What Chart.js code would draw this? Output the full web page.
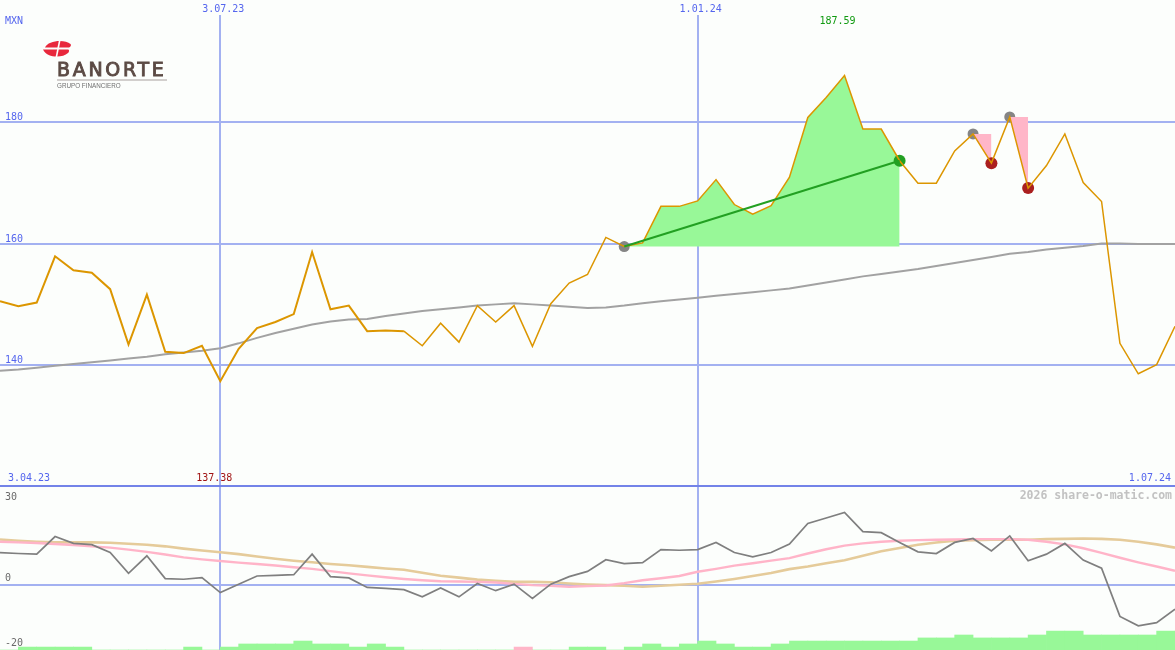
<!DOCTYPE html>
<html><head><meta charset="utf-8">
<script src="https://cdn.jsdelivr.net/npm/chart.js@4.4.0/dist/chart.umd.min.js"></script>
<style>
html,body{margin:0;padding:0;background:#fcfefc;}
#wrap{position:relative;width:1175px;height:650px;overflow:hidden;background:#fcfefc;}
canvas{position:absolute;left:0;}
#logo{position:absolute;left:43px;top:39px;width:130px;height:55px;}
</style></head><body>
<div id="wrap">
<canvas id="top" width="1175" height="487" style="top:0"></canvas>
<canvas id="bot" width="1175" height="165" style="top:485px"></canvas>
<div id="logo">
  <svg width="30" height="20" style="position:absolute;left:0;top:0">
    <path d="M2 8.5 C 5 1, 22 0, 27.5 5 C 28.5 6.5, 27.5 8.5, 25 8.5 Z" fill="#e8283c"/>
    <path d="M0 10.5 L 24.5 10.5 C 26.5 10.5, 26.5 12.5, 25 14 C 19 19.5, 4 19, 0 10.5 Z" fill="#e8283c"/>
    <line x1="17" y1="0" x2="13" y2="20" stroke="#fcfefc" stroke-width="1.6"/>
  </svg>
  <div style="position:absolute;left:14px;top:21px;font:19px 'DejaVu Sans';line-height:19px;color:#5b4a44;letter-spacing:2.7px;white-space:nowrap;-webkit-text-stroke:0.9px #5b4a44">BANORTE</div>
  <div style="position:absolute;left:14px;top:40px;width:110px;height:2px;background:#d2cfcd"></div>
  <div style="position:absolute;left:14px;top:43px;font:6.3px 'Liberation Sans';line-height:7px;color:#707070;white-space:nowrap">GRUPO FINANCIERO</div>
</div>
</div>
<script>
// ---------- data ----------
const currency = 'MXN';
const dateLabels = ['3.04.23', '3.07.23', '1.01.24', '1.07.24'];
const dateIdx = [0, 12, 38, 64];
const priceTicks = [140, 160, 180];
const oscTicks = [30, 0, -20];
const copyright = '2026 share-o-matic.com';

const price = [150.5,149.7,150.3,157.9,155.6,155.2,152.5,143.4,151.6,142.2,
  142.0,143.2,137.38,142.7,146.1,147.1,148.4,158.6,149.2,149.8,
  145.6,145.7,145.6,143.2,146.9,143.8,149.8,147.1,149.8,143.1,
  150.1,153.5,154.9,161.0,159.5,160.1,166.1,166.1,167.0,170.5,
  166.4,164.8,166.2,170.9,180.7,184.0,187.59,178.8,178.8,173.6,
  169.9,169.9,175.2,178.0,173.2,180.8,169.1,172.8,178.0,170.0,
  166.9,143.6,138.6,140.1,146.4];

const movingAvg = [139.1,139.3,139.6,139.9,140.2,140.5,140.8,141.1,141.4,141.8,
  142.1,142.4,142.8,143.6,144.5,145.3,146.0,146.7,147.2,147.5,
  147.6,148.1,148.5,148.9,149.2,149.5,149.8,150.0,150.2,150.0,
  149.8,149.6,149.4,149.5,149.8,150.2,150.5,150.8,151.1,151.4,
  151.7,152.0,152.3,152.6,153.1,153.6,154.1,154.6,155.0,155.4,
  155.8,156.3,156.8,157.3,157.8,158.3,158.6,159.0,159.3,159.6,
  160.0,160.0,159.9,159.9,159.9];

const momentum = [9.9,9.6,9.4,14.8,12.7,12.3,9.9,3.5,8.9,1.9,
  1.7,2.2,-2.4,0.2,2.7,2.9,3.1,9.4,2.5,2.1,
  -0.8,-1.1,-1.5,-3.7,-1.0,-3.7,0.4,-1.8,0.2,-4.2,
  0.2,2.5,4.1,7.7,6.5,6.8,10.8,10.6,10.8,13.0,
  9.9,8.6,9.9,12.5,18.8,20.5,22.2,16.3,16.0,13.0,
  10.1,9.6,13.0,14.2,10.4,15.0,7.4,9.4,12.7,7.6,
  5.1,-9.7,-12.6,-11.6,-7.5];

const signalFast = [13.2,13.0,12.8,12.5,12.2,11.8,11.4,10.8,10.1,9.3,
  8.4,7.8,7.3,6.8,6.4,5.9,5.4,4.9,4.2,3.5,
  2.9,2.3,1.8,1.4,1.1,1.0,0.9,0.7,0.3,-0.1,
  -0.3,-0.6,-0.4,-0.2,0.5,1.4,2.0,2.7,4.0,4.9,
  5.9,6.6,7.4,8.2,9.6,10.9,12.0,12.7,13.2,13.5,
  13.7,13.8,13.9,14.0,14.0,14.0,13.8,13.2,12.4,11.2,
  9.8,8.3,6.9,5.6,4.3];

const signalSlow = [13.9,13.5,13.2,13.0,13.0,13.0,12.9,12.6,12.3,11.8,
  11.1,10.5,10.0,9.4,8.7,8.0,7.4,6.9,6.4,6.0,
  5.5,5.0,4.6,3.7,2.8,2.2,1.6,1.2,0.9,0.9,
  0.8,0.4,0.1,-0.1,-0.3,-0.6,-0.3,0.0,0.3,1.0,
  1.8,2.7,3.6,4.8,5.6,6.6,7.5,8.9,10.3,11.3,
  12.3,13.0,13.5,13.7,13.8,13.8,13.8,14.0,14.1,14.2,
  14.1,13.8,13.2,12.4,11.4];

// signed: negative = pink bar
const volume = [0,0.9,0.9,0.9,0.9,0,0,0,0,0,
  0.9,0,0.9,1.85,1.85,1.85,2.75,1.85,1.85,0.9,
  1.85,0.9,0,0,0,0,0,0,-0.9,0,
  0,0.9,0.9,0,0.9,1.85,0.9,1.85,2.75,1.85,
  0.9,0.9,1.85,2.75,2.75,2.75,2.75,2.75,2.75,2.75,
  3.7,3.7,4.6,3.7,3.7,3.7,4.6,5.8,5.8,4.6,
  4.6,4.6,4.6,5.8,5.8];

const trendFrom = 34, trendTo = 49;
const sellFrom = [53, 55], sellTo = [54, 56];

// ---------- styles ----------
const GRID = '#a3b1f1', SEP = '#7383e8', BLUE = '#5566ee';
const ORANGE = '#dc9600', MAGRAY = '#a2a2a2', FILLGREEN = '#98f898', TRENDGREEN = '#22a022';
const PINKFILL = '#ffb6c8', DOTGRAY = '#858585', DOTRED = '#aa1f1f';
const MONO = '"DejaVu Sans Mono", monospace';

const pts = arr => arr.map((v, i) => ({x: i, y: v}));

// ---------- top chart ----------
const topDatasets = [];
topDatasets.push({
  label: 'area', data: price.slice(trendFrom, trendTo + 1).map((v, k) => ({x: trendFrom + k, y: v})),
  borderWidth: 0, borderColor: 'rgba(0,0,0,0)', backgroundColor: FILLGREEN,
  fill: {value: price[trendFrom]}, pointRadius: 0, order: 20
});
sellFrom.forEach((a, k) => {
  const b = sellTo[k];
  topDatasets.push({
    label: 'sellTop' + k, data: [{x: a, y: price[a]}, {x: b, y: price[a]}],
    borderWidth: 0, borderColor: 'rgba(0,0,0,0)', backgroundColor: PINKFILL,
    fill: '+1', pointRadius: 0, order: 17
  });
  topDatasets.push({
    label: 'sellEdge' + k, data: [{x: a, y: price[a]}, {x: b, y: price[b]}],
    borderWidth: 0, borderColor: 'rgba(0,0,0,0)', fill: false, pointRadius: 0, order: 17
  });
});
topDatasets.push({
  label: 'ma', data: pts(movingAvg), borderColor: MAGRAY, borderWidth: 2,
  pointRadius: 0, fill: false, order: 10
});
topDatasets.push({
  label: 'price', data: pts(price), borderColor: ORANGE, borderWidth: 2,
  pointRadius: 0, fill: false, order: 5,
  segment: { borderWidth: c => (c.p0DataIndex < 22 ? 2 : 1.5) }
});
topDatasets.push({
  label: 'trend', data: [{x: trendFrom, y: price[trendFrom]}, {x: trendTo, y: price[trendTo]}],
  borderColor: TRENDGREEN, borderWidth: 2, pointRadius: 0, fill: false, order: 4
});
const startPts = [{x: trendFrom, y: price[trendFrom]}].concat(sellFrom.map(a => ({x: a, y: price[a]})));
const endPts = [{x: trendTo, y: price[trendTo]}].concat(sellTo.map(b => ({x: b, y: price[b]})));
const endCols = [TRENDGREEN].concat(sellTo.map(() => DOTRED));
topDatasets.push({
  label: 'startDots', data: startPts, showLine: false, pointRadius: 5.5, pointBorderWidth: 0,
  pointBackgroundColor: DOTGRAY, pointBorderColor: DOTGRAY, order: 18
});
topDatasets.push({
  label: 'endDots', data: endPts, showLine: false, pointRadius: 6, pointBorderWidth: 0,
  pointBackgroundColor: endCols, pointBorderColor: endCols, order: 16
});

const topDeco = {
  id: 'topDeco',
  beforeDatasetsDraw(chart) {
    const {ctx, chartArea: a, scales: {x, y}} = chart;
    ctx.save();
    ctx.strokeStyle = GRID; ctx.lineWidth = 2;
    priceTicks.forEach(v => {
      const py = Math.round(y.getPixelForValue(v));
      ctx.beginPath(); ctx.moveTo(a.left, py); ctx.lineTo(a.right, py); ctx.stroke();
    });
    [dateIdx[1], dateIdx[2]].forEach(i => {
      const px = Math.round(x.getPixelForValue(i));
      ctx.beginPath(); ctx.moveTo(px, 15); ctx.lineTo(px, a.bottom); ctx.stroke();
    });
    ctx.restore();
  },
  afterDatasetsDraw(chart) {
    const {ctx, chartArea: a, scales: {x, y}} = chart;
    ctx.save();
    ctx.font = '10px ' + MONO;
    ctx.fillStyle = BLUE;
    ctx.textAlign = 'left'; ctx.textBaseline = 'alphabetic';
    priceTicks.forEach(v => ctx.fillText(String(v), 5, y.getPixelForValue(v) - 2));
    ctx.textBaseline = 'middle';
    ctx.fillText(currency, 5, 21);
    ctx.textAlign = 'center';
    [1, 2].forEach(k => ctx.fillText(dateLabels[k], x.getPixelForValue(dateIdx[k]) + 3, 9));
    ctx.textAlign = 'left';
    ctx.fillText(dateLabels[0], 8, a.bottom - 8.5);
    ctx.textAlign = 'right';
    ctx.fillText(dateLabels[3], a.right - 4, a.bottom - 8.5);
    const maxV = Math.max(...price), minV = Math.min(...price);
    const iMax = price.indexOf(maxV), iMin = price.indexOf(minV);
    ctx.textAlign = 'center';
    ctx.fillStyle = '#109a10';
    ctx.fillText(maxV.toFixed(2), x.getPixelForValue(iMax) - 7, 21);
    ctx.fillStyle = '#a01414';
    ctx.fillText(minV.toFixed(2), x.getPixelForValue(iMin) - 6, a.bottom - 8.5);
    ctx.restore();
  }
};

new Chart(document.getElementById('top'), {
  type: 'line',
  data: {datasets: topDatasets},
  options: {
    responsive: false, animation: false, events: [],
    layout: {padding: 0, autoPadding: false},
    plugins: {legend: {display: false}, tooltip: {enabled: false}},
    elements: {line: {tension: 0}},
    scales: {
      x: {type: 'linear', min: 0, max: 64, display: false, offset: false},
      y: {type: 'linear', min: 120, max: 200, display: false}
    }
  },
  plugins: [topDeco]
});

// ---------- bottom chart ----------
const botDeco = {
  id: 'botDeco',
  beforeDatasetsDraw(chart) {
    const {ctx, chartArea: a, scales: {x, y}} = chart;
    ctx.save();
    ctx.strokeStyle = GRID; ctx.lineWidth = 2;
    const p0 = Math.round(y.getPixelForValue(0));
    ctx.beginPath(); ctx.moveTo(a.left, p0); ctx.lineTo(a.right, p0); ctx.stroke();
    [dateIdx[1], dateIdx[2]].forEach(i => {
      const px = Math.round(x.getPixelForValue(i));
      ctx.beginPath(); ctx.moveTo(px, a.top); ctx.lineTo(px, a.bottom); ctx.stroke();
    });
    ctx.strokeStyle = SEP;
    ctx.beginPath(); ctx.moveTo(a.left, a.top - 1); ctx.lineTo(a.right, a.top - 1); ctx.stroke();
    ctx.restore();
  },
  afterDatasetsDraw(chart) {
    const {ctx, chartArea: a, scales: {y}} = chart;
    ctx.save();
    ctx.font = '10px ' + MONO;
    ctx.fillStyle = '#6a6a6a';
    ctx.textAlign = 'left'; ctx.textBaseline = 'alphabetic';
    oscTicks.forEach(v => {
      const py = y.getPixelForValue(v);
      ctx.fillText(String(v), 5, v === oscTicks[0] ? py + 13 : py - 4);
    });
    ctx.font = 'bold 11.5px ' + MONO;
    ctx.fillStyle = '#c2c2c2';
    ctx.textAlign = 'right'; ctx.textBaseline = 'middle';
    ctx.fillText(copyright, a.right - 3, a.top + 9);
    ctx.restore();
  }
};

new Chart(document.getElementById('bot'), {
  type: 'line',
  data: {datasets: [
    {
      type: 'bar', label: 'volume',
      data: volume.map((v, i) => ({x: i + 0.5, y: [-20, -20 + Math.abs(v)]})),
      backgroundColor: volume.map(v => (v < 0 ? PINKFILL : FILLGREEN)),
      borderWidth: 0, barPercentage: 1, categoryPercentage: 1, grouped: false, order: 20
    },
    {label: 'slow', data: pts(signalSlow), borderColor: '#e5cb9a', borderWidth: 2.6, pointRadius: 0, fill: false, order: 9},
    {label: 'fast', data: pts(signalFast), borderColor: '#ffb4c8', borderWidth: 2.4, pointRadius: 0, fill: false, order: 8},
    {label: 'momentum', data: pts(momentum), borderColor: '#7f7f7f', borderWidth: 1.7, pointRadius: 0, fill: false, order: 1}
  ]},
  options: {
    responsive: false, animation: false, events: [],
    layout: {padding: {top: 2, left: 0, right: 0, bottom: 0}, autoPadding: false},
    plugins: {legend: {display: false}, tooltip: {enabled: false}},
    elements: {line: {tension: 0}},
    scales: {
      x: {type: 'linear', min: 0, max: 64, display: false, offset: false},
      y: {type: 'linear', min: -20, max: 30, display: false}
    }
  },
  plugins: [botDeco]
});
</script>
</body></html>
